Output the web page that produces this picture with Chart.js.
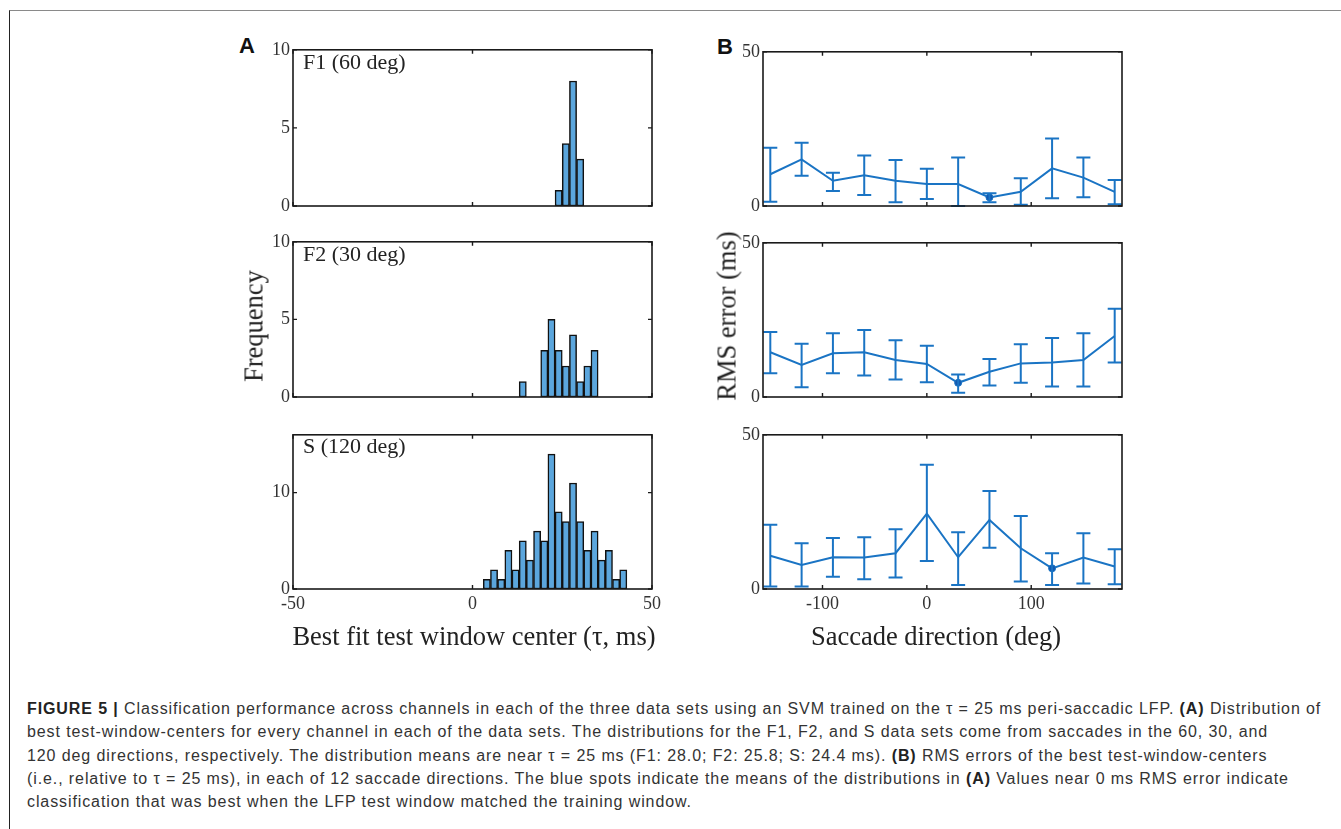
<!DOCTYPE html>
<html>
<head>
<meta charset="utf-8">
<script src="https://cdn.jsdelivr.net/npm/chart.js@4.4.1/dist/chart.umd.min.js"></script>
<style>
  body { margin: 0; background: #fff; width: 1341px; height: 829px; position: relative; overflow: hidden; }
  .frame { position: absolute; left: 9px; top: 10px; right: -2px; bottom: -2px; border-top: 1px solid #8a8a8a; border-left: 1px solid #222; }
  .panel { position: absolute; }
  .lbl { position: absolute; font-family: "Liberation Serif", serif; color: #222; white-space: nowrap; font-size: 26.5px; }
  .letter { position: absolute; font-family: "Liberation Sans", Arial, sans-serif; font-weight: bold; font-size: 22px; color: #111; }
  .ttl { position: absolute; font-family: "Liberation Serif", serif; font-size: 22px; color: #222; white-space: nowrap; }
  .caption { position: absolute; left: 27px; top: 697px; font-family: "Liberation Sans", Arial, sans-serif; font-size: 16px; letter-spacing: 0.9px; line-height: 23.3px; color: #333; white-space: nowrap; }
</style>
</head>
<body>
<div class="frame"></div>

<div class="letter" style="left:239px; top:33px;">A</div>
<div class="letter" style="left:717px; top:34px;">B</div>

<canvas id="a1" class="panel"></canvas>
<canvas id="a2" class="panel"></canvas>
<canvas id="a3" class="panel"></canvas>
<canvas id="b1" class="panel"></canvas>
<canvas id="b2" class="panel"></canvas>
<canvas id="b3" class="panel"></canvas>

<div class="ttl" style="left:303px; top:49px;">F1 (60 deg)</div>
<div class="ttl" style="left:303px; top:241px;">F2 (30 deg)</div>
<div class="ttl" style="left:303px; top:433px;">S (120 deg)</div>

<div class="lbl" style="left:254px; top:326px; transform: translate(-50%,-50%) rotate(-90deg);">Frequency</div>
<div class="lbl" style="left:727px; top:316px; transform: translate(-50%,-50%) rotate(-90deg);">RMS error (ms)</div>
<div class="lbl" style="left:474px; top:636px; transform: translate(-50%,-50%);">Best fit test window center (&tau;, ms)</div>
<div class="lbl" style="left:936px; top:636px; transform: translate(-50%,-50%);">Saccade direction (deg)</div>

<div class="caption"><b style="color:#222">FIGURE 5 |</b> Classification performance across channels in each of the three data sets using an SVM trained on the &tau; = 25 ms peri-saccadic LFP. <b style="color:#222">(A)</b> Distribution of<br>best test-window-centers for every channel in each of the data sets. The distributions for the F1, F2, and S data sets come from saccades in the 60, 30, and<br>120 deg directions, respectively. The distribution means are near &tau; = 25 ms (F1: 28.0; F2: 25.8; S: 24.4 ms). <b style="color:#222">(B)</b> RMS errors of the best test-window-centers<br>(i.e., relative to &tau; = 25 ms), in each of 12 saccade directions. The blue spots indicate the means of the distributions in <b style="color:#222">(A)</b> Values near 0 ms RMS error indicate<br>classification that was best when the LFP test window matched the training window.</div>

<script>
// histogram data (bin centers, bin width 2 ms)
const f1Centers = [24, 26, 28, 30];
const f1Counts = [1, 4, 8, 3];
const f2Centers = [14, 20, 22, 24, 26, 28, 30, 32, 34];
const f2Counts = [1, 3, 5, 3, 2, 4, 1, 2, 3];
const sCenters = [4, 6, 8, 10, 12, 14, 16, 18, 20, 22, 24, 26, 28, 30, 32, 34, 36, 38, 40, 42];
const sCounts = [1, 2, 1, 4, 2, 5, 3, 6, 5, 14, 8, 7, 11, 7, 4, 6, 3, 4, 1, 2];

const histTicksX = [-50, 0, 50];
const histTicksY = [0, 5, 10];
const histTicksYS = [0, 10];

// RMS error per saccade direction
const directions = [-150, -120, -90, -60, -30, 0, 30, 60, 90, 120, 150, 180];
const b1Mean  = [10.3, 15.1, 8.2, 10.0, 8.2, 7.1, 7.1, 2.8, 4.6, 12.2, 9.2, 4.6];
const b1Upper = [18.9, 20.5, 10.8, 16.4, 14.9, 12.1, 15.7, 4.1, 9.0, 21.9, 15.7, 8.4];
const b1Lower = [1.4, 9.8, 4.9, 3.6, 1.2, 2.3, 0, 1.2, 0.4, 2.5, 2.8, 0.6];
const b2Mean  = [14.5, 10.4, 14.2, 14.5, 12.0, 10.7, 4.6, 8.2, 10.9, 11.2, 12.0, 19.8];
const b2Upper = [21.1, 17.3, 20.7, 21.7, 18.4, 16.6, 7.3, 12.3, 17.1, 19.1, 20.7, 28.6];
const b2Lower = [7.7, 3.2, 7.7, 7.0, 5.7, 4.8, 1.4, 3.7, 4.6, 3.4, 3.4, 11.2];
const b3Mean  = [10.8, 7.8, 10.3, 10.2, 11.6, 24.4, 10.3, 22.4, 13.2, 6.7, 10.2, 7.3];
const b3Upper = [20.8, 14.8, 16.5, 16.8, 19.4, 40.3, 18.4, 31.8, 23.7, 11.6, 18.1, 12.9];
const b3Lower = [0.8, 0.8, 4.0, 3.2, 3.7, 9.1, 1.3, 13.4, 2.4, 1.3, 1.8, 1.5];
const rmsTicksX = [-100, 0, 100];
const rmsTicksY = [0, 50];
const meanDirB1 = 60, meanDirB2 = 30, meanDirB3 = 120;

const barColor = '#5ba6dd';
const lineColor = '#1a74c4';
const AXIS_W = 45, AXIS_H = 28, PAD_T = 12, PAD_R = 16;

// box around plot area with inward ticks (matlab style)
const boxPlugin = {
    id: 'box',
    afterDraw(chart) {
        const { ctx, chartArea: a, scales } = chart;
        ctx.save();
        ctx.strokeStyle = '#1a1a1a';
        ctx.lineWidth = 1.6;
        ctx.strokeRect(a.left, a.top, a.right - a.left, a.bottom - a.top);
        ctx.lineWidth = 1.4;
        ctx.beginPath();
        scales.x.ticks.forEach(t => {
            const px = scales.x.getPixelForValue(t.value);
            ctx.moveTo(px, a.bottom); ctx.lineTo(px, a.bottom - 4);
            ctx.moveTo(px, a.top); ctx.lineTo(px, a.top + 4);
        });
        scales.y.ticks.forEach(t => {
            const py = scales.y.getPixelForValue(t.value);
            ctx.moveTo(a.left, py); ctx.lineTo(a.left + 4, py);
            ctx.moveTo(a.right, py); ctx.lineTo(a.right - 4, py);
        });
        ctx.stroke();
        ctx.restore();
    }
};

const errorBarPlugin = {
    id: 'errbars',
    afterDatasetsDraw(chart, args, opts) {
        if (!opts.upper) return;
        const { ctx, scales } = chart;
        ctx.save();
        ctx.strokeStyle = lineColor;
        ctx.lineWidth = 2;
        ctx.beginPath();
        directions.forEach((d, i) => {
            const x = scales.x.getPixelForValue(d);
            const yt = scales.y.getPixelForValue(opts.upper[i]);
            const yb = scales.y.getPixelForValue(opts.lower[i]);
            ctx.moveTo(x, yt); ctx.lineTo(x, yb);
            ctx.moveTo(x - 7, yt); ctx.lineTo(x + 7, yt);
            ctx.moveTo(x - 7, yb); ctx.lineTo(x + 7, yb);
        });
        ctx.stroke();
        ctx.restore();
    }
};

function place(id, left, top, right, bottom) {
    const c = document.getElementById(id);
    const w = (right - left) + AXIS_W + PAD_R;
    const h = (bottom - top) + PAD_T + AXIS_H;
    c.width = w; c.height = h;
    c.style.left = (left - AXIS_W) + 'px';
    c.style.top = (top - PAD_T) + 'px';
    c.style.width = w + 'px';
    c.style.height = h + 'px';
    return c;
}

function axes(xMin, xMax, xTicks, yMin, yMax, yTicks, showX) {
    const tickFont = { family: 'Liberation Serif', size: 18 };
    return {
        x: {
            type: 'linear', min: xMin, max: xMax, offset: false,
            grid: { display: false, drawTicks: false, offset: false },
            border: { display: false },
            afterBuildTicks: s => { s.ticks = xTicks.map(v => ({ value: v })); },
            afterFit: s => { s.height = AXIS_H; },
            ticks: { display: showX, font: tickFont, color: '#333', padding: 4, maxRotation: 0, autoSkip: false }
        },
        y: {
            min: yMin, max: yMax,
            grid: { display: false, drawTicks: false },
            border: { display: false },
            afterBuildTicks: s => { s.ticks = yTicks.map(v => ({ value: v })); },
            afterFit: s => { s.width = AXIS_W; },
            ticks: { font: tickFont, color: '#333', padding: 3, autoSkip: false }
        }
    };
}

function histChart(id, box, centers, counts, yMax, yTicks, showX) {
    const c = place(id, ...box);
    new Chart(c, {
        type: 'bar',
        data: {
            datasets: [{
                data: centers.map((x, i) => ({ x: x, y: counts[i] })),
                backgroundColor: barColor,
                borderColor: '#111',
                borderWidth: 1.5,
                barPercentage: 1,
                categoryPercentage: 1,
                borderSkipped: false
            }]
        },
        options: {
            responsive: false, animation: false,
            layout: { padding: { top: PAD_T, right: PAD_R, left: 0, bottom: 0 } },
            plugins: { legend: { display: false }, tooltip: { enabled: false } },
            scales: axes(-50, 50, histTicksX, 0, yMax, yTicks, showX)
        },
        plugins: [boxPlugin]
    });
}

function rmsChart(id, box, mean, upper, lower, meanDir, showX) {
    const c = place(id, ...box);
    new Chart(c, {
        type: 'line',
        data: {
            datasets: [{
                data: directions.map((d, i) => ({ x: d, y: mean[i] })),
                borderColor: lineColor,
                borderWidth: 2,
                pointRadius: directions.map(d => d === meanDir ? 3.5 : 0),
                pointBackgroundColor: '#1258b0',
                pointBorderColor: lineColor,
                pointBorderWidth: 1,
                tension: 0,
                clip: false
            }]
        },
        options: {
            responsive: false, animation: false,
            layout: { padding: { top: PAD_T, right: PAD_R, left: 0, bottom: 0 } },
            plugins: { legend: { display: false }, tooltip: { enabled: false }, errbars: { upper: upper, lower: lower } },
            scales: axes(-157, 187, rmsTicksX, 0, 50, rmsTicksY, showX)
        },
        plugins: [boxPlugin, errorBarPlugin]
    });
}

histChart('a1', [293, 48, 652, 206], f1Centers, f1Counts, 10, histTicksY, false);
histChart('a2', [293, 240, 652, 397], f2Centers, f2Counts, 10, histTicksY, false);
histChart('a3', [293, 433, 652, 589], sCenters, sCounts, 16, histTicksYS, true);

rmsChart('b1', [763, 50, 1122, 206], b1Mean, b1Upper, b1Lower, meanDirB1, false);
rmsChart('b2', [763, 241, 1122, 397], b2Mean, b2Upper, b2Lower, meanDirB2, false);
rmsChart('b3', [763, 433, 1122, 589], b3Mean, b3Upper, b3Lower, meanDirB3, true);
</script>
</body>
</html>
